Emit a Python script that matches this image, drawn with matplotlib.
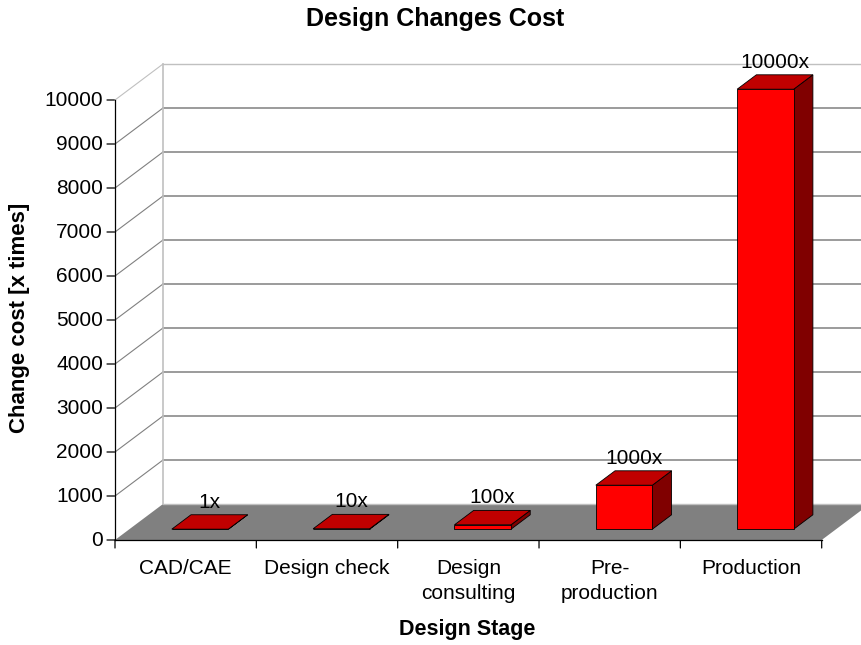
import matplotlib
matplotlib.use("Agg")
import matplotlib.pyplot as plt
from matplotlib.patches import Polygon
from matplotlib.lines import Line2D

plt.rcParams['font.family'] = ['Liberation Sans', 'DejaVu Sans']

# ---- data ----
stages = ["CAD/CAE", "Design check", "Design\nconsulting", "Pre-\nproduction", "Production"]
cost = [1, 10, 100, 1000, 10000]
cost_labels = ["1x", "10x", "100x", "1000x", "10000x"]
yticks = [0, 1000, 2000, 3000, 4000, 5000, 6000, 7000, 8000, 9000, 10000]

W, H, DPI = 862, 645, 100
fig = plt.figure(figsize=(W / DPI, H / DPI), dpi=DPI)
fig.patch.set_facecolor("white")

# front plane of the 3-D box
ax = fig.add_axes([115 / W, 105 / H, 706.7 / W, 440 / H])
ax.set_xlim(-0.5, len(stages) - 0.5)
ax.set_ylim(0, 10000)
ax.axis("off")

DEPTH_PX = (48.0, 36.0)        # receding depth of the box, in pixels
BAR_HALF = 0.2                 # half bar width, in category units
BAR_D0, BAR_D1 = 0.3, 0.7      # bar extent along the depth axis

to_fig = fig.transFigure.inverted()


def P(x, y, d):
    """Oblique projection of (category, value, depth) to figure fraction."""
    px, py = ax.transData.transform((x, y))
    s = fig.dpi / 100.0
    return to_fig.transform((px + d * DEPTH_PX[0] * s, py + d * DEPTH_PX[1] * s))


def poly(pts, **kw):
    fig.add_artist(Polygon([P(*p) for p in pts], closed=True,
                           transform=fig.transFigure, **kw))


def line(p0, p1, **kw):
    a, b = P(*p0), P(*p1)
    fig.add_artist(Line2D([a[0], b[0]], [a[1], b[1]],
                          transform=fig.transFigure, **kw))


x0, x1 = -0.5, len(stages) - 0.5
ytop = yticks[-1]

# floor
poly([(x0, 0, 0), (x1, 0, 0), (x1, 0, 1), (x0, 0, 1)],
     facecolor="#808080", edgecolor="none", zorder=1)

# gridlines on the back wall and left side wall
for v in yticks:
    if v in (0, ytop):
        col, lw = "#c0c0c0", 1.0
    else:
        col, lw = "#808080", 1.1
    line((x0, v, 1), (x1, v, 1), color=col, lw=lw, zorder=2)
    if v != 0:
        line((x0, v, 0), (x0, v, 1), color=col, lw=0.8, zorder=2)

# back wall left edge
line((x0, 0, 1), (x0, ytop, 1), color="#c0c0c0", lw=1.2, zorder=2)

# value axis and category axis
line((x0, 0, 0), (x0, ytop, 0), color="black", lw=0.9, zorder=5)
line((x0, 0, 0), (x1, 0, 0), color="black", lw=0.9, zorder=5)

tick_pt = 8 * 72 / 100
for v in yticks:
    ax.annotate("", xy=(x0, v), xytext=(-tick_pt, 0), textcoords="offset points",
                arrowprops=dict(arrowstyle="-", color="black", lw=0.9,
                                shrinkA=0, shrinkB=0), annotation_clip=False)
    ax.annotate(f"{v}", xy=(x0, v), xytext=(-12 * 0.72, -1 * 0.72),
                textcoords="offset points", ha="right", va="center",
                fontsize=15, annotation_clip=False)

for k in range(len(stages) + 1):
    xb = x0 + k
    ax.annotate("", xy=(xb, 0), xytext=(0, -tick_pt), textcoords="offset points",
                arrowprops=dict(arrowstyle="-", color="black", lw=0.9,
                                shrinkA=0, shrinkB=0), annotation_clip=False)

for i, name in enumerate(stages):
    ax.annotate(name, xy=(i, 0), xytext=(0, -19 * 0.72), textcoords="offset points",
                ha="center", va="top", fontsize=15, linespacing=1.42,
                annotation_clip=False)

# 3-D bars
for i, v in enumerate(cost):
    a, b = i - BAR_HALF, i + BAR_HALF
    ec = dict(edgecolor="black", lw=0.6, joinstyle="miter")
    # right side
    poly([(b, 0, BAR_D0), (b, v, BAR_D0), (b, v, BAR_D1), (b, 0, BAR_D1)],
         facecolor="#800000", zorder=6, **ec)
    # top
    poly([(a, v, BAR_D0), (b, v, BAR_D0), (b, v, BAR_D1), (a, v, BAR_D1)],
         facecolor="#c00000", zorder=6, **ec)
    # front
    poly([(a, 0, BAR_D0), (b, 0, BAR_D0), (b, v, BAR_D0), (a, v, BAR_D0)],
         facecolor="#ff0000", zorder=7, **ec)
    # value label above the top face
    cx = P(i, v, 0.5)[0]
    cy = P(i, v, BAR_D1)[1]
    fig.text(cx, cy + 7 / H, cost_labels[i], ha="center", va="baseline",
             fontsize=15, zorder=8)

fig.text(435 / W, 1 - 19 / H, "Design Changes Cost", ha="center", va="center",
         fontsize=18, fontweight="bold")
fig.text(467 / W, 1 - 630 / H, "Design Stage", ha="center", va="center",
         fontsize=15.5, fontweight="bold")
fig.text(20 / W, 1 - 318 / H, "Change cost [x times]", ha="center", va="center",
         rotation=90, fontsize=16, fontweight="bold")

fig.savefig("out.png", dpi=DPI, facecolor="white")
